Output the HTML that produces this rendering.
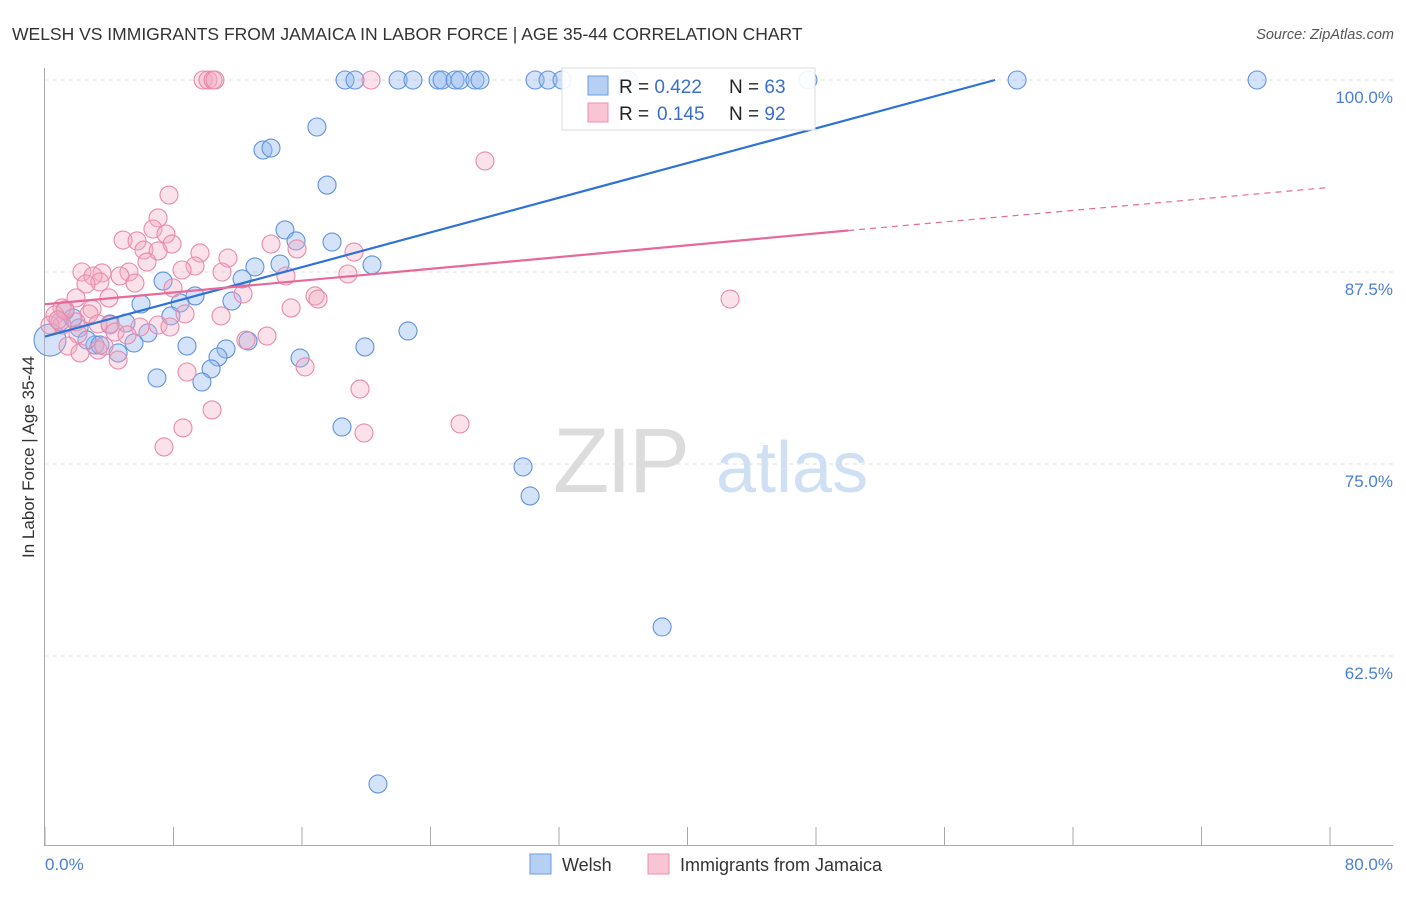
<!DOCTYPE html>
<html><head><meta charset="utf-8"><style>
body{margin:0;background:#fff;font-family:"Liberation Sans",sans-serif}
svg text{font-family:"Liberation Sans",sans-serif}
</style></head><body>
<svg id="chart" width="1406" height="892" xmlns="http://www.w3.org/2000/svg">
<text x="12" y="40" font-size="17.5" fill="#333">WELSH VS IMMIGRANTS FROM JAMAICA IN LABOR FORCE | AGE 35-44 CORRELATION CHART</text>
<text x="1394" y="39" font-size="14.5" fill="#555" font-style="italic" text-anchor="end">Source: ZipAtlas.com</text>
<g>
<text x="553" y="492" font-size="92" fill="#dcdcdc" font-family="Liberation Serif" letter-spacing="-3">ZIP</text>
<text x="716" y="492" font-size="72" fill="#cfe0f4">atlas</text>
</g>
<g id="grid"></g>
<line x1="44.5" y1="68" x2="44.5" y2="845" stroke="#aaa"/>
<line x1="44" y1="845.5" x2="1393" y2="845.5" stroke="#aaa"/>
<g id="xticks"></g>
<g id="ylabels"></g>
<text x="45" y="870" font-size="17" fill="#4a7fd6">0.0%</text>
<text x="1393" y="870" font-size="17" fill="#4a7fd6" text-anchor="end">80.0%</text>
<text transform="translate(34,457) rotate(-90)" font-size="17" fill="#333" text-anchor="middle">In Labor Force | Age 35-44</text>
<g id="pts"></g>
<g id="trends"></g>
<g>
<rect x="562" y="68" width="253" height="62" fill="#fff" fill-opacity="0.9" stroke="#ddd"/>
<rect x="588" y="76" width="20" height="19" fill="#b6d0f4" stroke="#6a9be0"/>
<rect x="588" y="103" width="20" height="19" fill="#f9c4d4" stroke="#ec8fae"/>
<text x="619" y="93" font-size="19" fill="#222">R = <tspan fill="#3a6fd0">0.422</tspan><tspan x="729">N = </tspan><tspan fill="#3a6fd0">63</tspan></text>
<text x="619" y="120" font-size="19" fill="#222">R = <tspan fill="#3a6fd0" x="657">0.145</tspan><tspan x="729">N = </tspan><tspan fill="#3a6fd0">92</tspan></text>
</g>
<g>
<rect x="530" y="854" width="21" height="20" fill="#b6d0f4" stroke="#6a9be0"/>
<text x="562" y="871" font-size="18" fill="#333">Welsh</text>
<rect x="648" y="854" width="21" height="20" fill="#f9c4d4" stroke="#ec8fae"/>
<text x="680" y="871" font-size="18" fill="#333">Immigrants from Jamaica</text>
</g>
</svg>
<script>
const yTicks=[100,87.5,75,62.5];
const yTickLabels=["100.0%","87.5%","75.0%","62.5%"];
const xTickVals=[0,8,16,24,32,40,48,56,64,72,80];
const welshX=[18.68,19.30,21.98,22.91,24.47,24.72,25.53,25.84,26.77,27.08,30.51,31.32,32.19,36.30,47.50,60.52,75.46,16.93,13.57,14.07,17.56,14.94,15.63,17.87,13.07,14.63,20.36,12.27,7.35,9.34,5.98,8.41,11.64,7.84,22.60,6.41,5.04,4.05,2.12,1.25,3.11,4.55,5.54,8.84,11.27,12.64,15.88,19.92,10.77,10.34,6.97,9.77,18.49,29.76,30.20,38.42,20.73,0.31,2.61,3.42,0.93,1.74];
const welshY=[100,100,100,100,100,100,100,100,100,100,100,100,100,100,100,100,100,96.94,95.44,95.57,93.16,90.24,89.52,89.45,87.83,88.02,87.96,87.05,86.91,85.94,85.42,85.48,85.61,84.64,83.66,83.53,84.18,84.12,83.86,84.96,82.75,82.23,82.88,82.68,82.49,83.01,81.90,82.62,81.97,81.19,80.60,80.34,77.41,74.81,72.92,64.39,54.17,83.07,83.07,82.75,84.25,84.51];
const jamX=[9.84,10.15,10.46,10.58,20.30,27.39,7.72,7.04,6.72,7.53,4.86,5.73,7.91,6.16,7.04,14.07,15.69,19.24,9.65,11.39,6.35,5.23,2.30,3.55,9.34,8.53,11.02,2.99,4.67,5.60,18.86,15.00,3.42,2.55,7.97,1.93,3.98,12.33,16.81,17.00,1.06,2.93,15.32,10.96,8.72,2.74,1.93,3.30,4.05,5.91,7.04,7.78,13.82,12.51,2.05,4.36,5.11,1.43,3.30,3.67,4.55,2.18,8.84,16.19,19.61,10.40,8.59,19.86,25.84,7.41,42.65,0.62,1.06,1.25,0.31,0.81];
const jamY=[100,100,100,100,100,94.73,92.51,91.02,90.30,89.97,89.58,89.52,89.32,88.93,88.87,89.32,89.00,88.80,88.74,88.41,88.15,87.50,87.50,87.44,87.89,87.63,87.50,87.24,87.24,86.78,87.37,87.24,86.85,86.72,86.46,85.81,85.81,86.07,85.94,85.74,85.16,85.09,85.16,84.64,84.77,84.77,84.25,84.12,84.05,83.92,84.05,83.92,83.33,83.07,83.46,83.59,83.40,82.68,82.42,82.68,81.77,82.23,80.99,81.32,79.88,78.52,77.35,77.02,77.61,76.11,85.74,84.70,84.05,85.03,84.05,84.38];
const welshTrend=[83.3,100,59.15];   // [y at 0, y at end, x end]
const jamTrend=[85.4,90.2,50,93.0,79.9]; // [y0, y solid end, x solid end, y dashed end, x dashed end]
const NS="http://www.w3.org/2000/svg";
const X=v=>45+v/80*1285;
const Y=v=>80+(100-v)/12.5*192;
function mk(tag,attrs,parent){const e=document.createElementNS(NS,tag);for(const k in attrs)e.setAttribute(k,attrs[k]);parent.appendChild(e);return e;}
const grid=document.getElementById('grid'),yl=document.getElementById('ylabels'),xt=document.getElementById('xticks'),pts=document.getElementById('pts'),tr=document.getElementById('trends');
yTicks.forEach((t,i)=>{
 const l=mk('line',{x1:45,x2:1393,y1:Y(t),y2:Y(t),stroke:'#ddd','stroke-dasharray':'4,4'},grid);
 
 
 const tx=mk('text',{x:1393,y:Y(t)+23,'font-size':17,fill:'#4a7fd6','text-anchor':'end'},yl);
 tx.textContent=yTickLabels[i];
 
 
});
xTickVals.forEach(v=>{
 const l=mk('line',{x1:X(v),x2:X(v),y1:827,y2:845,stroke:'#aaa'},xt);
 
 
});
welshX.forEach((x,i)=>{
 const c=mk('circle',{cx:X(x),cy:Y(welshY[i]),r:(i==57?16:9),fill:'#93baf0','fill-opacity':0.4,stroke:'#5f93dd','stroke-width':1.1},pts);
 
 
});
jamX.forEach((x,i)=>{
 const c=mk('circle',{cx:X(x),cy:Y(jamY[i]),r:9,fill:'#f4a8c0','fill-opacity':0.35,stroke:'#ea8aab','stroke-width':1.1},pts);
 
 
});
const bl=mk('line',{x1:X(0),y1:Y(welshTrend[0]),x2:X(welshTrend[2]),y2:Y(welshTrend[1]),stroke:'#2f72d6','stroke-width':2.2},tr);


const pl=mk('line',{x1:X(0),y1:Y(jamTrend[0]),x2:X(jamTrend[2]),y2:Y(jamTrend[1]),stroke:'#e8689a','stroke-width':2.2},tr);


const pd=mk('line',{x1:X(jamTrend[2]),y1:Y(jamTrend[1]),x2:X(jamTrend[4]),y2:Y(jamTrend[3]),stroke:'#e8689a','stroke-width':1.2,'stroke-dasharray':'6,5'},tr);


</script>
</body></html>
